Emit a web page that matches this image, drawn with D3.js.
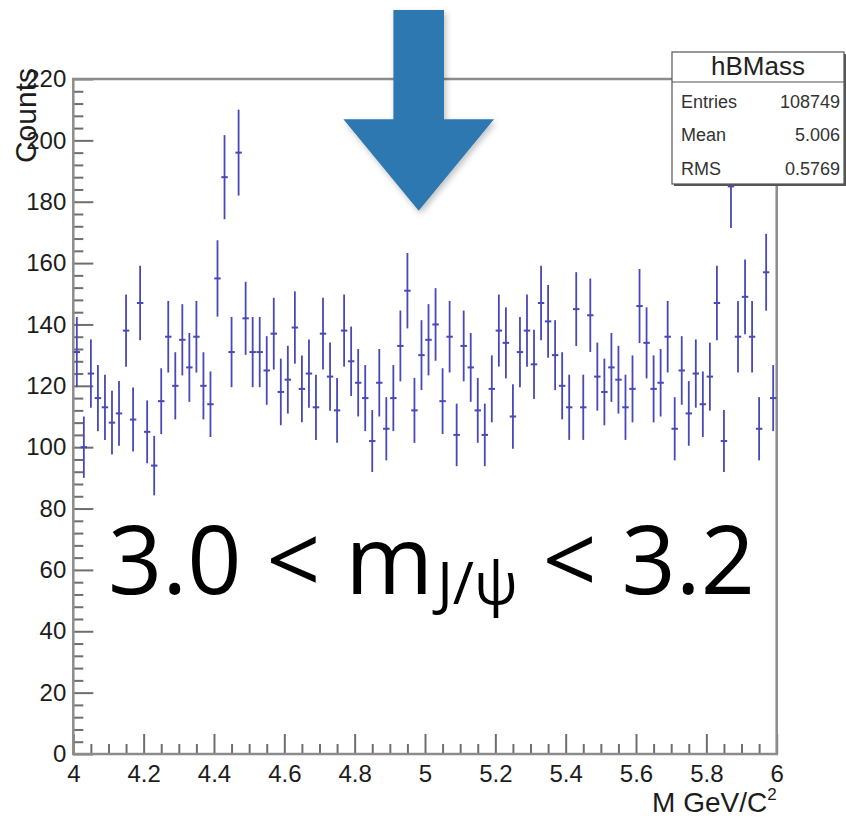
<!DOCTYPE html>
<html>
<head>
<meta charset="utf-8">
<script src="https://cdn.jsdelivr.net/npm/d3@7"></script>
<style>
  body { margin: 0; background: #fff; }
  svg { display: block; }
</style>
</head>
<body>
<svg id="chart" width="846" height="819"></svg>
<script>
// ---- histogram definition ----
const histName = "hBMass";
const massRange = [4, 6];     // GeV/c^2
const nBins = 100;
const counts = [
  131, 100, 124, 116, 113, 108, 111, 138, 109, 147,
  105,  94, 115, 136, 120, 135, 126, 136, 120, 114,
  155, 188, 131, 196, 142, 131, 131, 125, 137, 118,
  122, 139, 119, 124, 113, 137, 123, 112, 138, 128,
  121, 116, 102, 121, 106, 116, 133, 151, 112, 130,
  135, 140, 115, 136, 104, 133, 126, 112, 104, 119,
  138, 134, 110, 131, 138, 127, 147, 141, 130, 120,
  113, 145, 113, 143, 123, 118, 126, 122, 113, 119,
  146, 134, 119, 121, 136, 106, 125, 111, 124, 114,
  123, 147, 102, 185, 136, 149, 136, 106, 157, 116
];
const countRange = [0, 220];

// ---- axis ticks ----
const xMajorTicks = [4, 4.2, 4.4, 4.6, 4.8, 5, 5.2, 5.4, 5.6, 5.8, 6];
const xTickLabels = ["4", "4.2", "4.4", "4.6", "4.8", "5", "5.2", "5.4", "5.6", "5.8", "6"];
const xMinorStep = 0.05;
const yMajorTicks = [0, 20, 40, 60, 80, 100, 120, 140, 160, 180, 200, 220];
const yMinorStep = 4;
const xTitle = "M GeV/C";
const xTitleSup = "2";
const yTitle = "Counts";

// ---- statistics box ----
const statNames = ["Entries", "Mean", "RMS"];
const statValues = ["108749", "5.006", "0.5769"];

// ---- annotation ----
const cutLabel = { lo: "3.0", particle: "m", sub: "J/\u03c8", hi: "3.2" };

// ---------------------------------------------------------------
const svg = d3.select("#chart");
const plot = { left: 73.3, right: 776.7, top: 79, bottom: 754 };

const x = d3.scaleLinear().domain(massRange).range([plot.left, plot.right]);
const y = d3.scaleLinear().domain(countRange).range([plot.bottom, plot.top]);

const binWidth = (massRange[1] - massRange[0]) / nBins;
const bins = counts.map((n, i) => {
  const lo = massRange[0] + i * binWidth;
  return { lo, hi: lo + binWidth, mid: lo + binWidth / 2, n, err: Math.sqrt(n) };
});

const axisColor = "#8c8c8c";
const tickColor = "#6e6e6e";
const tickFont = "'Liberation Sans', Arial, Helvetica, sans-serif";

// minor ticks
function minorValues(domain, step, majors) {
  const out = [];
  const nSteps = Math.round((domain[1] - domain[0]) / step);
  for (let k = 0; k <= nSteps; k++) {
    const v = +(domain[0] + k * step).toFixed(6);
    if (!majors.some(m => Math.abs(m - v) < 1e-9)) out.push(v);
  }
  return out;
}

const gxMinor = svg.append("g")
  .attr("transform", `translate(0,${plot.bottom})`)
  .call(d3.axisBottom(x).tickValues(minorValues(massRange, xMinorStep, xMajorTicks))
    .tickSize(-10).tickFormat(""));
const gyMinor = svg.append("g")
  .attr("transform", `translate(${plot.left},0)`)
  .call(d3.axisLeft(y).tickValues(minorValues(countRange, yMinorStep, yMajorTicks))
    .tickSize(-10).tickFormat(""));

const gx = svg.append("g")
  .attr("transform", `translate(0,${plot.bottom})`)
  .call(d3.axisBottom(x).tickValues(xMajorTicks).tickSize(-20).tickPadding(11)
    .tickFormat((d, i) => xTickLabels[i]));
const gy = svg.append("g")
  .attr("transform", `translate(${plot.left},0)`)
  .call(d3.axisLeft(y).tickValues(yMajorTicks).tickSize(-20).tickPadding(7)
    .tickFormat(d3.format("d")));

[gxMinor, gyMinor, gx, gy].forEach(g => {
  g.select(".domain").remove();
  g.selectAll(".tick line").attr("stroke", tickColor).attr("stroke-width", 2);
  g.selectAll(".tick text")
    .attr("font-family", tickFont).attr("font-size", 24).attr("fill", "#1c1c1c");
});

// frame
svg.append("rect")
  .attr("x", plot.left).attr("y", plot.top)
  .attr("width", plot.right - plot.left).attr("height", plot.bottom - plot.top)
  .attr("fill", "none").attr("stroke", axisColor).attr("stroke-width", 2.5);

// axis titles
const xt = svg.append("text")
  .attr("x", plot.right).attr("y", 812)
  .attr("text-anchor", "end")
  .attr("font-family", tickFont).attr("font-size", 28).attr("fill", "#1c1c1c");
xt.append("tspan").text(xTitle);
xt.append("tspan").attr("dy", -12).attr("font-size", 17).text(xTitleSup);

svg.append("text")
  .attr("transform", `translate(36,${plot.top - 11}) rotate(-90)`)
  .attr("text-anchor", "end")
  .attr("font-family", tickFont).attr("font-size", 30).attr("fill", "#1c1c1c")
  .text(yTitle);

// ---- histogram points with Poisson error bars ----
const markColor = "#4848b8";
const gData = svg.append("g");
gData.selectAll("line.err")
  .data(bins).join("line").attr("class", "err")
  .attr("x1", d => x(d.mid)).attr("x2", d => x(d.mid))
  .attr("y1", d => y(d.n - d.err)).attr("y2", d => y(d.n + d.err))
  .attr("stroke", markColor).attr("stroke-width", 1.8);
gData.selectAll("line.bin")
  .data(bins).join("line").attr("class", "bin")
  .attr("x1", d => x(d.lo) + 0.3).attr("x2", d => x(d.hi) - 0.3)
  .attr("y1", d => y(d.n)).attr("y2", d => y(d.n))
  .attr("stroke", markColor).attr("stroke-width", 2);

// ---- statistics box ----
const box = { x: 672, y: 52, w: 172, h: 132, head: 30 };
const gStat = svg.append("g");
gStat.append("rect")
  .attr("x", box.x + 2).attr("y", box.y + 2).attr("width", box.w).attr("height", box.h)
  .attr("fill", "#555");
gStat.append("rect")
  .attr("x", box.x).attr("y", box.y).attr("width", box.w).attr("height", box.h)
  .attr("fill", "#fff").attr("stroke", "#555").attr("stroke-width", 1.2);
gStat.append("line")
  .attr("x1", box.x).attr("x2", box.x + box.w)
  .attr("y1", box.y + box.head).attr("y2", box.y + box.head)
  .attr("stroke", "#555").attr("stroke-width", 1.2);
gStat.append("text")
  .attr("x", box.x + box.w / 2).attr("y", box.y + 23)
  .attr("text-anchor", "middle")
  .attr("font-family", tickFont).attr("font-size", 26).attr("fill", "#222")
  .text(histName);
statNames.forEach((name, i) => {
  const by = box.y + 56 + i * 33.3;
  gStat.append("text").attr("x", box.x + 9).attr("y", by)
    .attr("font-family", tickFont).attr("font-size", 18).attr("fill", "#333").text(name);
  gStat.append("text").attr("x", box.x + box.w - 4).attr("y", by)
    .attr("text-anchor", "end")
    .attr("font-family", tickFont).attr("font-size", 18).attr("fill", "#333").text(statValues[i]);
});

// ---- arrow marking the signal region ----
const defs = svg.append("defs");
const f = defs.append("filter").attr("id", "shadow")
  .attr("x", "-20%").attr("y", "-20%").attr("width", "140%").attr("height", "140%");
f.append("feDropShadow").attr("dx", 2).attr("dy", 3).attr("stdDeviation", 3)
  .attr("flood-color", "#000").attr("flood-opacity", 0.25);

const arrow = { cx: 418.7, top: 10, shaftHalf: 25.3, neck: 119.3, headHalf: 75.3, tip: 210.7 };
svg.append("path")
  .attr("d", d3.line()([
    [arrow.cx - arrow.shaftHalf, arrow.top],
    [arrow.cx + arrow.shaftHalf, arrow.top],
    [arrow.cx + arrow.shaftHalf, arrow.neck],
    [arrow.cx + arrow.headHalf, arrow.neck],
    [arrow.cx, arrow.tip],
    [arrow.cx - arrow.headHalf, arrow.neck],
    [arrow.cx - arrow.shaftHalf, arrow.neck]
  ]) + "Z")
  .attr("fill", "#2f78b1")
  .attr("filter", "url(#shadow)");

// ---- mass window label ----
const cut = svg.append("text")
  .attr("x", 108).attr("y", 594)
  .attr("font-family", "'Open Sans', 'Noto Sans', sans-serif")
  .attr("font-size", 95).attr("fill", "#000");
cut.append("tspan").text(`${cutLabel.lo} < ${cutLabel.particle}`);
cut.append("tspan").attr("dx", 4).attr("dy", 10).attr("font-size", 58).text(cutLabel.sub);
cut.append("tspan").attr("dy", -10).text(` < ${cutLabel.hi}`);
</script>
</body>
</html>
